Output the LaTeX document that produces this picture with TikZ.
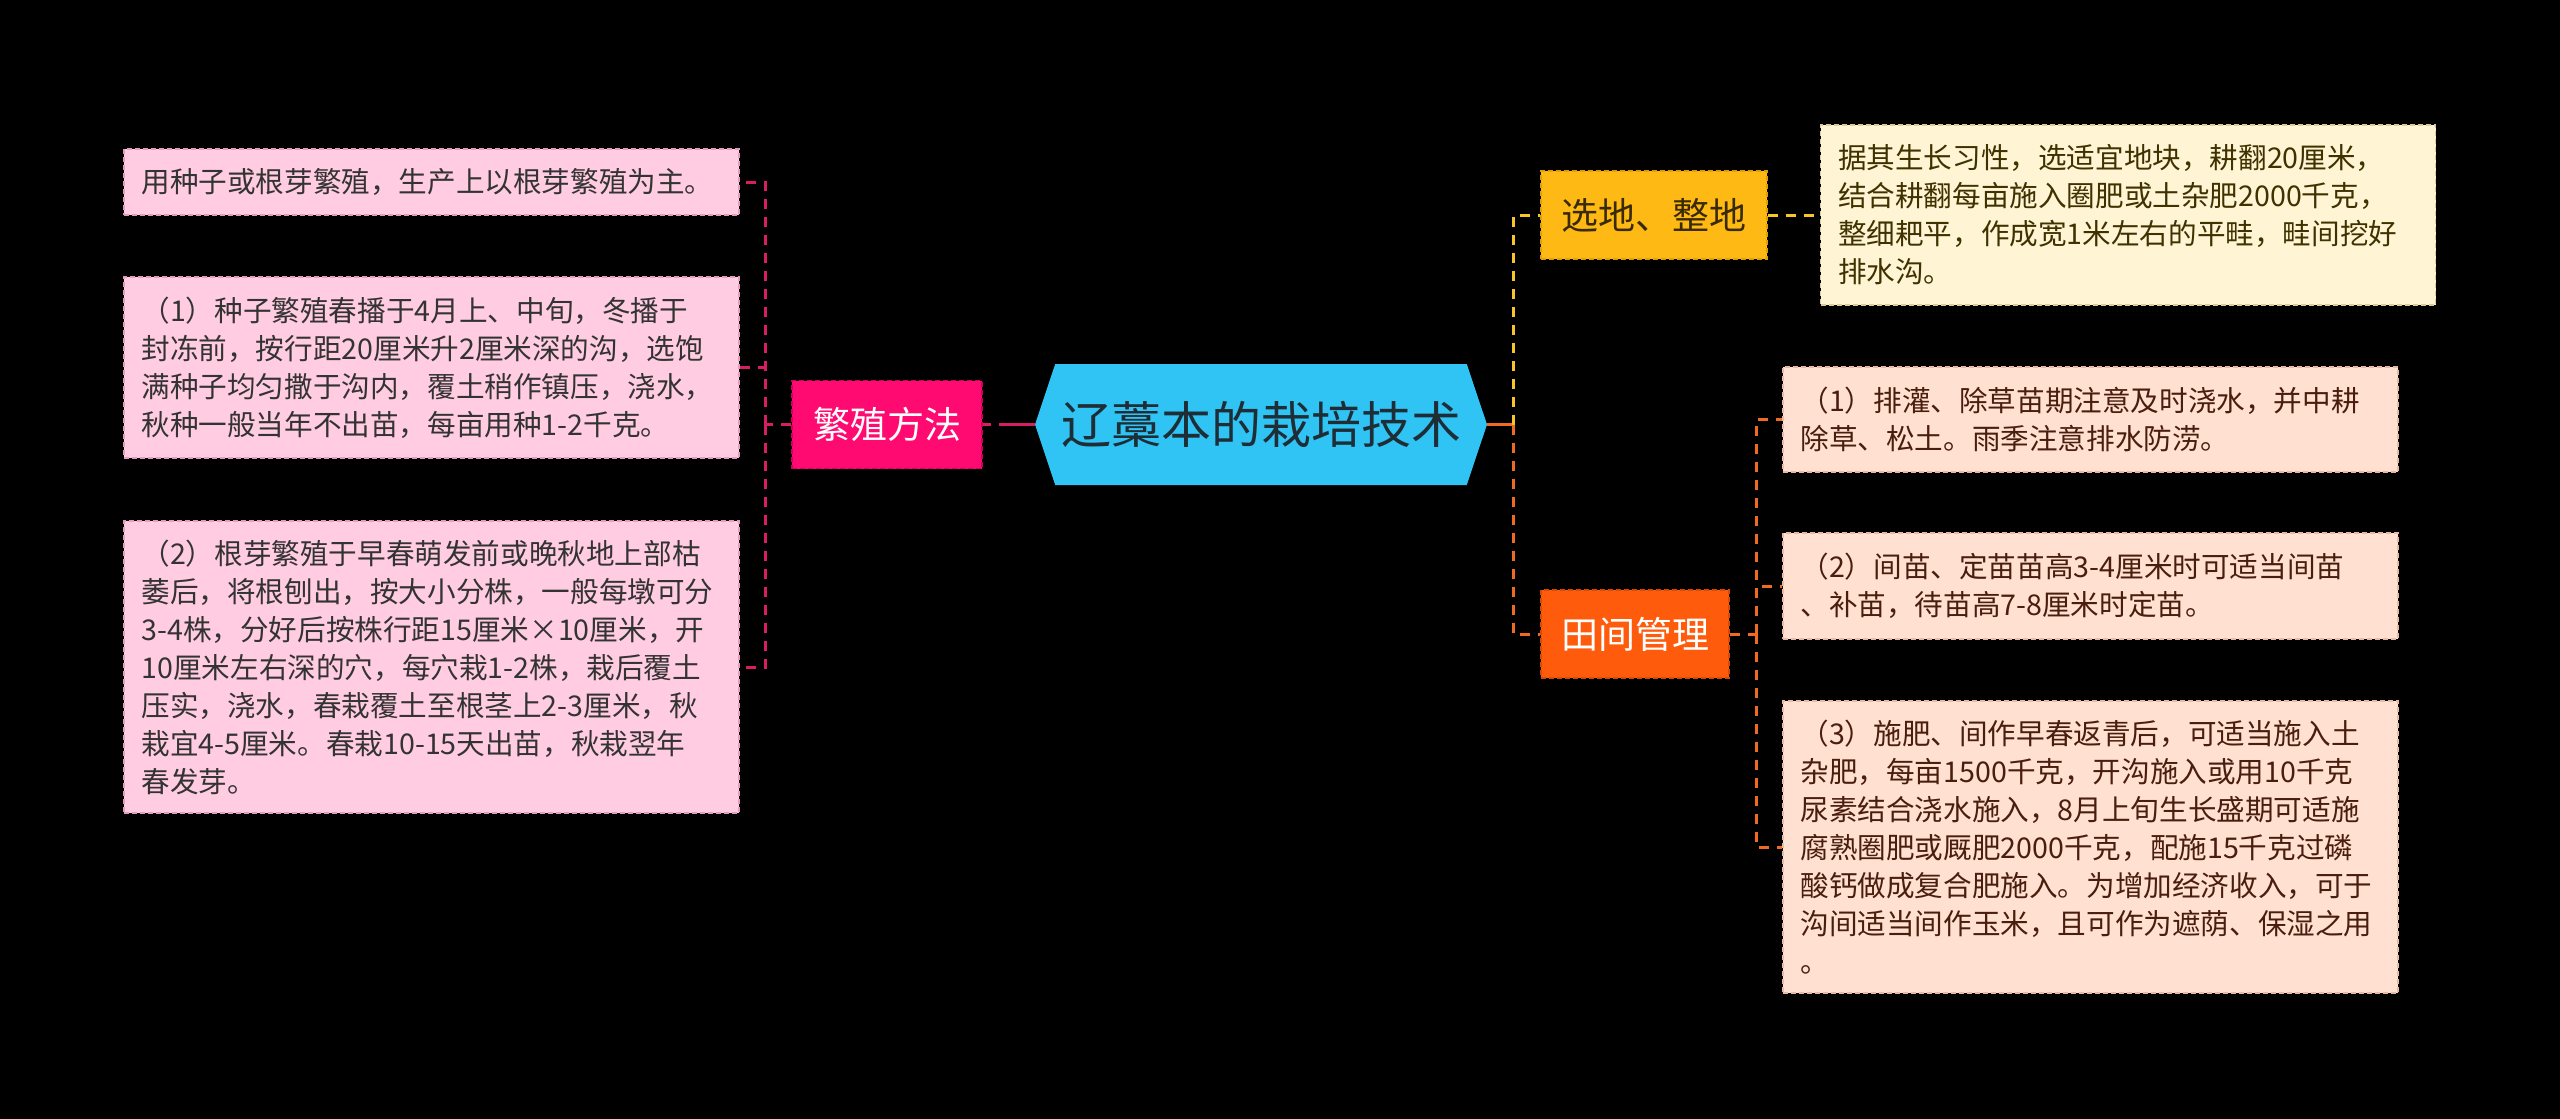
\documentclass[tikz,border=0pt]{standalone}
\usepackage{fontspec}
\setmainfont{Noto Sans CJK SC}
\usetikzlibrary{shapes.symbols}
\definecolor{rootblue}{HTML}{30C4F4}
\definecolor{roottext}{HTML}{1E2D36}
\definecolor{pinkmain}{HTML}{FF0A70}
\definecolor{pinkdark}{HTML}{D0005A}
\definecolor{pinkln}{HTML}{D81E63}
\definecolor{pinkfill}{HTML}{FFCCE1}
\definecolor{pinkedge}{HTML}{E59BBE}
\definecolor{pinktext}{HTML}{333333}
\definecolor{ambermain}{HTML}{FFB914}
\definecolor{amberdark}{HTML}{E0A000}
\definecolor{ambertext}{HTML}{3A2A00}
\definecolor{amberln}{HTML}{F7C52A}
\definecolor{creamfill}{HTML}{FFF5D5}
\definecolor{creamedge}{HTML}{DCCB98}
\definecolor{creamtext}{HTML}{3F3200}
\definecolor{orangemain}{HTML}{FF5B0C}
\definecolor{orangedark}{HTML}{D94A00}
\definecolor{orangeln}{HTML}{F06A22}
\definecolor{peachfill}{HTML}{FFE0D1}
\definecolor{peachedge}{HTML}{E9B9A2}
\definecolor{peachtext}{HTML}{4A1E0E}
\begin{document}
\begin{tikzpicture}[x=0.5pt,y=-0.5pt,
	root/.style={shape=signal,signal to=east and west,signal pointer angle=143,fill=rootblue,text=roottext,minimum width=226pt,minimum height=60.5pt,inner sep=0pt,font=\fontsize{25pt}{30pt}\selectfont},
	branch/.style={dash pattern=on 2.5pt off 1.5pt,line width=0.8pt,minimum height=44pt,inner sep=0pt,font=\fontsize{18.5pt}{22pt}\selectfont},
	leaf/.style={dash pattern=on 2.5pt off 1.5pt,line width=0.8pt,align=left,text width=290pt,inner xsep=8.75pt,inner ysep=0pt,font=\fontsize{14.3pt}{19pt}\selectfont},
	leafpink/.style={leaf,draw=pinkedge,fill=pinkfill,text=pinktext},
	leafcream/.style={leaf,draw=creamedge,fill=creamfill,text=creamtext},
	leafpeach/.style={leaf,draw=peachedge,fill=peachfill,text=peachtext},
	pinkline/.style={pinkln,line width=1.5pt,dash pattern=on 5pt off 4pt},
	amberline/.style={amberln,line width=1.5pt,dash pattern=on 5pt off 4pt},
	orangeline/.style={orangeln,line width=1.5pt,dash pattern=on 5pt off 4pt}]
		\fill[black] (0,0) rectangle (2560,1119);
		\node[root] (root) at (1261,424.5) {辽藁本的栽培技术};
		\node[branch,draw=pinkdark,fill=pinkmain,text=white,minimum width=95pt] (fanzhi) at (887,424.5) {繁殖方法};
		\node[branch,draw=amberdark,fill=ambermain,text=ambertext,minimum width=113pt] (xuandi) at (1654,215) {选地、整地};
		\node[branch,draw=orangedark,fill=orangemain,text=white,minimum width=94pt] (tianjian) at (1635,634) {田间管理};
		\node[leafpink,minimum height=33pt] (fz1) at (431.5,182) {用种子或根芽繁殖，生产上以根芽繁殖为主。};
		\node[leafpink,minimum height=90.5pt] (fz2) at (431.5,367.5) {（1）种子繁殖春播于4月上、中旬，冬播于\\封冻前，按行距20厘米升2厘米深的沟，选饱\\满种子均匀撒于沟内，覆土稍作镇压，浇水，\\秋种一般当年不出苗，每亩用种1-2千克。};
		\node[leafpink,minimum height=146pt] (fz3) at (431.5,667) {（2）根芽繁殖于早春萌发前或晚秋地上部枯\\萎后，将根刨出，按大小分株，一般每墩可分\\3-4株，分好后按株行距15厘米×10厘米，开\\10厘米左右深的穴，每穴栽1-2株，栽后覆土\\压实，浇水，春栽覆土至根茎上2-3厘米，秋\\栽宜4-5厘米。春栽10-15天出苗，秋栽翌年\\春发芽。};
		\node[leafcream,minimum height=90pt] (xd1) at (2128,215) {据其生长习性，选适宜地块，耕翻20厘米，\\结合耕翻每亩施入圈肥或土杂肥2000千克，\\整细耙平，作成宽1米左右的平畦，畦间挖好\\排水沟。};
		\node[leafpeach,minimum height=52.5pt] (tj1) at (2090.5,419.5) {（1）排灌、除草苗期注意及时浇水，并中耕\\除草、松土。雨季注意排水防涝。};
		\node[leafpeach,minimum height=53pt] (tj2) at (2090.5,586) {（2）间苗、定苗苗高3-4厘米时可适当间苗\\、补苗，待苗高7-8厘米时定苗。};
		\node[leafpeach,minimum height=146pt] (tj3) at (2090.5,847) {（3）施肥、间作早春返青后，可适当施入土\\杂肥，每亩1500千克，开沟施入或用10千克\\尿素结合浇水施入，8月上旬生长盛期可适施\\腐熟圈肥或厩肥2000千克，配施15千克过磷\\酸钙做成复合肥施入。为增加经济收入，可于\\沟间适当间作玉米，且可作为遮荫、保湿之用\\。};
		\coordinate (fzj) at (765,424.5);
		\coordinate (rj) at (1513,424.5);
		\coordinate (tjj) at (1756,634);
		\draw[pinkln,line width=1.5pt,dash pattern=on 18pt off 4pt] (root.west) -- (fanzhi.east);
		\draw[pinkline] (fanzhi.west) -- (fzj);
		\foreach \n in {fz1,fz2,fz3} \draw[pinkline] (fzj) |- (\n.east);
		\draw[orangeln,line width=1.5pt] (root.east) -- (rj);
		\draw[amberline] (rj) |- (xuandi.west);
		\draw[amberline] (xuandi.east) -- (xd1.west);
		\draw[orangeline] (rj) |- (tianjian.west);
		\draw[orangeline] (tianjian.east) -- (tjj);
		\foreach \n in {tj1,tj2,tj3} \draw[orangeline] (tjj) |- (\n.west);
\end{tikzpicture}
\end{document}
